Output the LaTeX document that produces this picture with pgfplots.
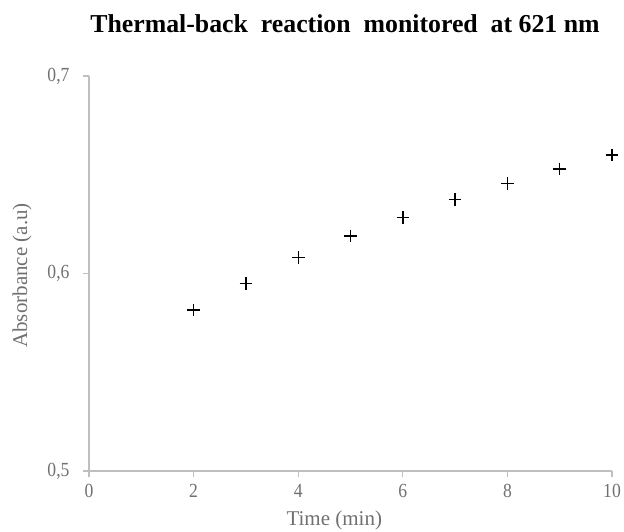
\documentclass[border=0pt]{standalone}
\usepackage{pgfplots}
\pgfplotsset{compat=1.18}
\usepackage{fontspec}
\setmainfont{Liberation Serif}
\newfontfamily\titlefont{Liberation Serif}
\newfontfamily\tickfont{Liberation Serif}[FakeStretch=0.88]
\definecolor{axgray}{RGB}{191,191,191}
\definecolor{labgray}{RGB}{112,112,112}
\begin{document}
\begin{tikzpicture}[x=1pt,y=1pt]
\useasboundingbox (0,0) rectangle (624,531);
\node[font=\titlefont\fontsize{25.8}{30}\selectfont\bfseries, anchor=base] at (345,498) {Thermal-back\ \ reaction\ \ monitored\ \ at 621 nm};
\begin{axis}[
  at={(89pt,60pt)}, anchor=south west,
  scale only axis, width=523pt, height=395pt,
  xmin=0, xmax=10, ymin=0.5, ymax=0.7,
  axis x line=bottom, axis y line=left,
  axis line style={-, draw=axgray, line width=1.2pt},
  xtick={0,2,...,10}, ytick={0.5,0.6,0.7},
  tick align=outside, major tick length=6pt,
  tick style={draw=axgray, line width=1.2pt},
  /pgf/number format/assume math mode=true,
  /pgf/number format/use comma,
  yticklabel style={/pgf/number format/fixed, /pgf/number format/precision=1, /pgf/number format/fixed zerofill, xshift=-10pt},
  xticklabel style={yshift=-4pt},
  ticklabel style={font=\tickfont\fontsize{20}{23}\selectfont, text=labgray},
  xlabel={Time (min)}, ylabel={Absorbance (a.u)},
  every axis x label/.style={at={(axis description cs:0.469,-0.138)}, anchor=base, font=\fontsize{21}{24}\selectfont, text=labgray},
  every axis y label/.style={at={(axis description cs:-0.128,0.495)}, anchor=center, rotate=90, font=\fontsize{21}{24}\selectfont, text=labgray},
]
\addplot[only marks, mark=+, mark size=6.3pt, line width=1.4pt, black] coordinates {
(2,0.5815) (3,0.595) (4,0.608) (5,0.619) (6,0.6284) (7,0.6376) (8,0.6455) (9,0.6529) (10,0.660)
};
\end{axis}
\end{tikzpicture}
\end{document}
